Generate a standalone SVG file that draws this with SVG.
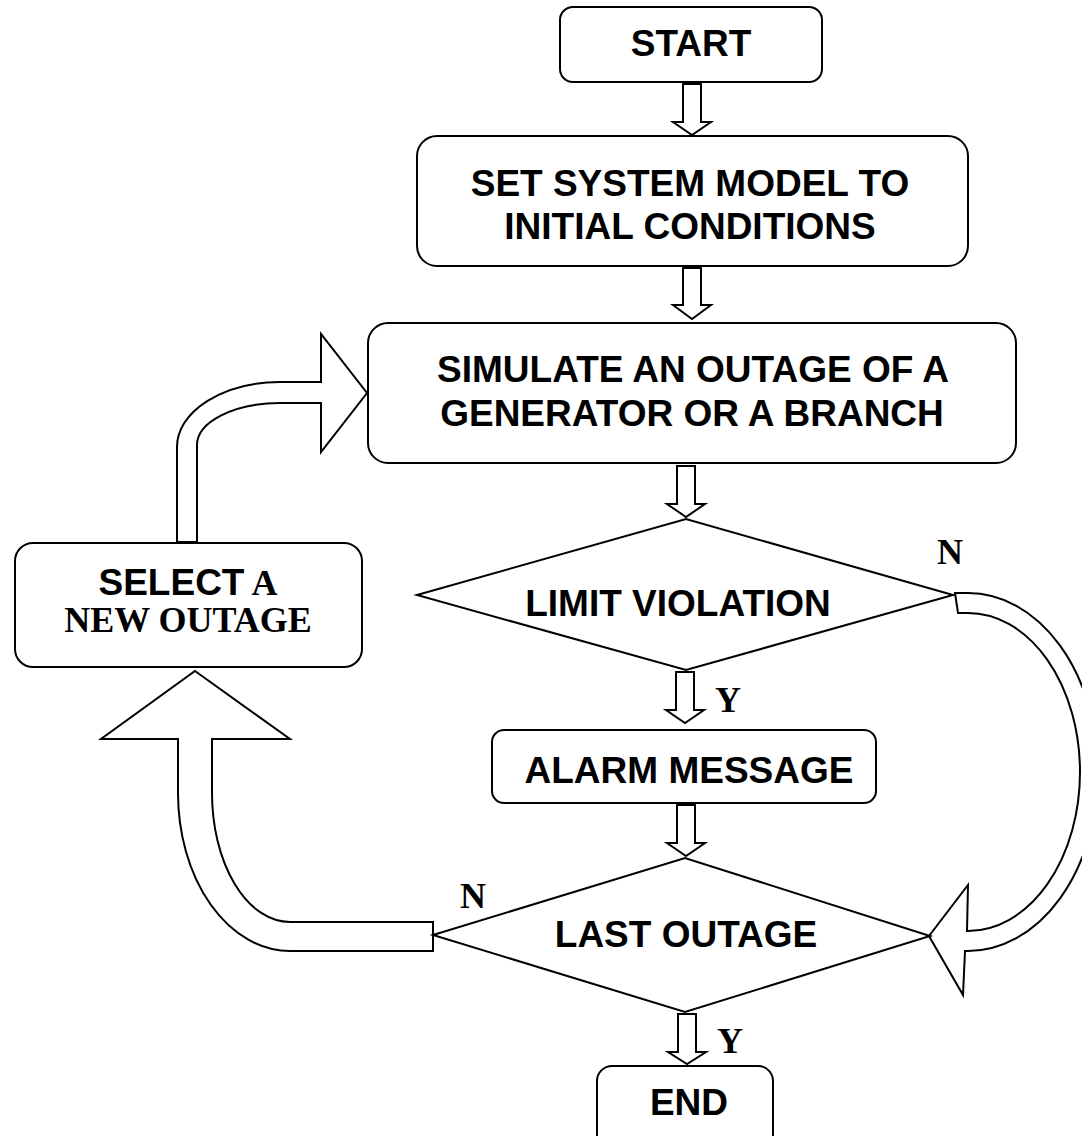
<svg xmlns="http://www.w3.org/2000/svg" width="1082" height="1136" viewBox="0 0 1082 1136">
<style>
.box{fill:#fff;stroke:#000;stroke-width:2}
.dia{fill:#fff;stroke:#000;stroke-width:2}
.arr{fill:#fff;stroke:#000;stroke-width:2;stroke-linejoin:miter}
.t{font-family:"Liberation Sans",Arial,sans-serif;font-weight:bold;font-size:37px;fill:#000;text-anchor:middle}
.s{font-family:"Liberation Serif","Times New Roman",serif;font-weight:bold;font-size:36px;fill:#000}
.lbl{font-family:"Liberation Serif","Times New Roman",serif;font-weight:bold;font-size:36px;fill:#000;text-anchor:middle}
</style>
<rect width="1082" height="1136" fill="#fff"/>
<g id="connectors">
<path class="arr" d="M683,84 V122 H673 L692,135 L711,122 H701 V84 Z"/>
<path class="arr" d="M683,268 V305 H673 L692,319 L711,305 H701 V268 Z"/>
<path class="arr" d="M677,466 V504 H667 L686,517 L705,504 H695 V466 Z"/>
<path class="arr" d="M676,672 V710 H666 L685,723 L704,710 H694 V672 Z"/>
<path class="arr" d="M677,805 V843 H667 L686,856 L705,843 H695 V805 Z"/>
<path class="arr" d="M678,1014 V1052 H668 L687,1064 L706,1052 H696 V1014 Z"/>
<path class="arr" d="M177,542 V447 A103,65 0 0 1 280,382 H321 V334 L367,393 L321,452 V403 H280 A83,42 0 0 0 197,445 V542 Z"/>
<path class="arr" d="M195,671 L290,739 H212 V793 A78,129 0 0 0 290,922 H433 V951 H290 A112,158 0 0 1 178,793 V739 H101 Z"/>
<path class="arr" d="M955,593 L968,593 A130,179 0 0 1 968,951 L965,951 L963,995 L929,936 L968,885 L967,931 L968,931 A112,159 0 0 0 968,613 L958,613 Z"/>
<text class="lbl" x="950" y="564">N</text>
<text class="lbl" x="473" y="908">N</text>
<text class="lbl" x="728" y="712">Y</text>
<text class="lbl" x="730" y="1053">Y</text>
</g>
<g id="start">
<rect class="box" x="560" y="7" width="262" height="75" rx="13"/>
<text class="t" x="691" y="56">START</text>
</g>
<g id="set-model">
<rect class="box" x="417" y="136" width="551" height="130" rx="20"/>
<text class="t" x="690" y="196">SET SYSTEM MODEL TO</text>
<text class="t" x="690" y="239">INITIAL CONDITIONS</text>
</g>
<g id="simulate">
<rect class="box" x="368" y="323" width="648" height="140" rx="20"/>
<text class="t" x="693" y="382">SIMULATE AN OUTAGE OF A</text>
<text class="t" x="692" y="426">GENERATOR OR A BRANCH</text>
</g>
<g id="limit-violation">
<polygon class="dia" points="417,595 686,519 953,595 686,670"/>
<text class="t" x="678" y="616">LIMIT VIOLATION</text>
</g>
<g id="select-outage">
<rect class="box" x="15" y="543" width="347" height="124" rx="18"/>
<text class="t" x="188" y="595"><tspan>SELECT</tspan><tspan class="s"> A</tspan></text>
<text class="lbl" x="188" y="632">NEW OUTAGE</text>
</g>
<g id="alarm">
<rect class="box" x="492" y="730" width="384" height="73" rx="12"/>
<text class="t" x="689" y="783">ALARM MESSAGE</text>
</g>
<g id="last-outage">
<polygon class="dia" points="433,935 685,858 930,936 685,1012"/>
<text class="t" x="686" y="947">LAST OUTAGE</text>
</g>
<g id="end">
<rect class="box" x="597" y="1066" width="176" height="90" rx="15"/>
<text class="t" x="689" y="1115">END</text>
</g>
</svg>
